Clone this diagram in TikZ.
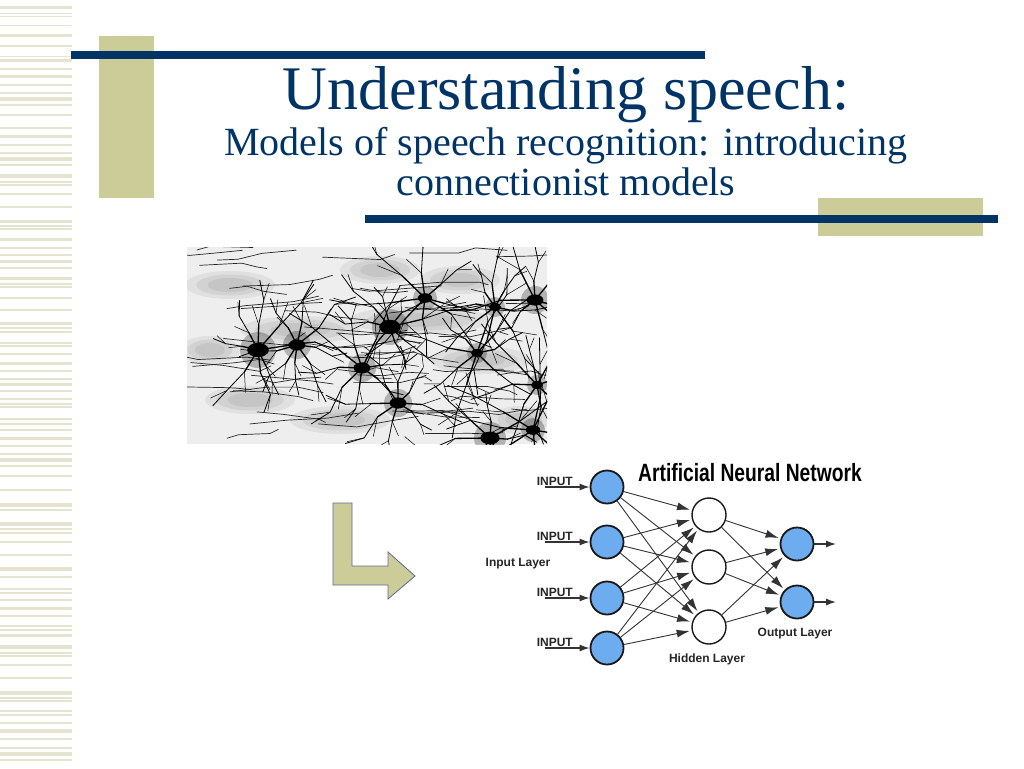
\documentclass[tikz,border=0pt]{standalone}
\usepackage{fontspec}
\setmainfont{Liberation Serif}
\newfontfamily\netfont{Liberation Sans}
\usetikzlibrary{arrows.meta}
\definecolor{navy}{RGB}{0,51,102}
\definecolor{khaki}{RGB}{204,204,153}
\definecolor{stripe}{RGB}{228,228,208}
\definecolor{cellblue}{RGB}{110,172,240}
\definecolor{photo}{RGB}{238,238,238}
\tikzstyle{title} = [text=navy, inner sep=0pt, anchor=base]
\tikzstyle{inunit} = [draw=black!90, line width=1.8pt, fill=cellblue, circle, minimum size=33pt, inner sep=0pt]
\tikzstyle{hidunit} = [inunit, fill=white, line width=1.4pt, minimum size=34pt]
\tikzstyle{outunit} = [inunit]
\tikzstyle{link} = [draw=black!80, line width=0.9pt, -{Latex[length=13pt,width=8pt]}, shorten >=2pt]
\tikzstyle{inarrow} = [draw=black!80, line width=1.3pt, -{Latex[length=10pt,width=7pt]}]
\tikzstyle{lbl} = [font={\netfont\bfseries\fontsize{12}{12}\selectfont}, text=black!85, inner sep=0pt]
\tikzstyle{dend} = [line width=0.8pt, black, line cap=round, line join=round]
\tikzstyle{fibre} = [line width=0.7pt, black!85]

\begin{document}
\begin{tikzpicture}[x=1pt,y=-1pt]
        \useasboundingbox (0,0) rectangle (1024,768);
        \fill[white] (0,0) rectangle (1024,768);
        % stripes at the left edge
        \foreach \y/\h in {6/3,13/1.5,16/1.5,25/1.5,34/3.5,45/2,56/1.5,59/2.5,68/1.5,75/3,84/2,92/1.5,97/3.5,104/2,114/1.5,127/1.5,135/3,144/2,152/2,157/4,164/2,174/4,181/1.5,184/1.5,193/1.5,206/1.5,220/2.5,225/1.5,228/1.5,238/3,247/1.5,254/1.5,260/3,267/2,277/3,283/1.5,286/1.5,297/1.5,309/1.5,322/3,327/1.5,331/1.5,342/1.5,345/2,353/2,362/2.5,370/1.5,378/1.5,383/3,390/2,398/2,403/1.5,406/1.5,418/2,423/1.5,429/1.5,437/2.5,445/2,453/2,458/4,465/2,475/2,489/1.5,503/3.5,509/2,522/3.5,528/1.5,532/1.5,541/1.5,554/1.5,567/4,576/2,588/1.5,592/1.5,599/1.5,607/2.5,615/2,625/2,629/1.5,634/3,645/4,652/1.5,655/1.5,664/1.5,677/1.5,691/3.5,697/1.5,700/1.5,710/1.5,714/2,722/1.5,729/3.5,738/2,747/1.5,752/3.5,759/2}
          \fill[stripe] (0,\y) rectangle (72,\y+\h);
        % bars round the title
        \fill[khaki] (99,36) rectangle (154,198);
        \fill[navy] (71,51) rectangle (705,59);
        \fill[khaki] (818,198) rectangle (983,236);
        \fill[navy] (365,215) rectangle (998,223);
        \node[title, font=\fontsize{62}{62}\selectfont] (head) at (566,109) {Understanding speech:};
        \node[title, font=\fontsize{40}{40}\selectfont] (sub1) at (566,155) {Models of speech recognition: introducing};
        \node[title, font=\fontsize{40}{40}\selectfont] (sub2) at (566,195) {connectionist models};
        % photo of neurons
        \begin{scope}
          \clip (187,247) rectangle (547,444);
          \fill[photo] (187,247) rectangle (547,444);
          \foreach \x/\y/\w in {230/285/45,300/330/60,420/320/70,250/400/45,480/360/50,380/270/40,520/420/30,340/420/50,460/280/40,210/350/30}
            \foreach \s in {1,0.75,0.5}
              \fill[black, opacity=0.06] (\x,\y) ellipse [x radius=\s*\w, y radius=\s*14];
          \pgfmathsetseed{11}
          \foreach \k in {1,...,55}{
            \pgfmathsetmacro\fy{250+rnd*190}
            \pgfmathsetmacro\fx{175+rnd*340}
            \draw[fibre] (\fx,\fy) -- ++(10+rnd*40,rand*5) -- ++(10+rnd*40,rand*6) -- ++(5+rnd*30,rand*6);
          }
          \foreach \sx/\sy/\sr in {258/350/9,297/345/7,390/327/9,362/368/7,398/403/7,425/298/6,495/307/5,535/300/7,477/353/5,490/438/8,537/385/5,533/430/6}{
            \fill[black, opacity=0.25] (\sx,\sy) circle [radius=2*\sr];
            \foreach \a in {0,45,...,315}{
              \pgfmathsetmacro\aa{\a+rand*20}
              \pgfmathsetmacro\ll{15+rnd*20}
              \draw[dend, line width=1.3pt] (\sx,\sy) -- ++(\aa:\ll) coordinate (fork);
              \draw[dend] (fork) -- ++(\aa+rand*25:\ll) coordinate (twig) -- ++(\aa+rand*30:\ll*0.8);
              \draw[dend, line width=0.5pt] (fork) -- ++(\aa-30+rand*15:\ll*0.8);
              \draw[dend, line width=0.5pt] (twig) -- ++(\aa+30+rand*15:\ll*0.7);
            }
            \fill (\sx,\sy) ellipse [x radius=1.2*\sr, y radius=0.8*\sr];
          }
        \end{scope}
        % bent arrow
        \draw[fill=khaki, draw=black!70!blue!60, line width=0.8pt] (333,503) -- (352,503) -- (352,566) -- (388,566) -- (388,552) -- (415,576) -- (388,599) -- (388,585) -- (333,585) -- cycle;
        % the network
        \node[inunit](i1) at (607,487){};
        \node[inunit](i2) at (607,542){};
        \node[inunit](i3) at (607,598){};
        \node[inunit](i4) at (607,648){};
        \node[hidunit](h1) at (709,515){};
        \node[hidunit](h2) at (709,567){};
        \node[hidunit](h3) at (709,627){};
        \node[outunit](o1) at (797,544){};
        \node[outunit](o2) at (797,602){};
        \coordinate (q1) at (836,544);
        \coordinate (q2) at (836,602);
        \foreach \i in {1,...,4}{
          \node[lbl, anchor=south east] (in\i) at ([xshift=-34pt,yshift=1pt]i\i.center) {INPUT};
          \draw[inarrow] ([xshift=8pt,yshift=-1pt]in\i.south west) -- (i\i);
        }
        \foreach \i in {1,...,4}
          \foreach \j in {1,2,3}
            \draw[link](i\i)--(h\j);
        \foreach \j in {1,2,3}
          \foreach \k in {1,2}
            \draw[link](h\j)--(o\k);
        \draw[inarrow](o1)--(q1);
        \draw[inarrow](o2)--(q2);
        \node[lbl](inlayer) at (518,564){Input Layer};
        \node[lbl](hidlayer) at (707,659){Hidden Layer};
        \node[lbl](outlayer) at (795,634){Output Layer};
        \node[inner sep=0pt, font={\netfont\bfseries\fontsize{25}{25}\selectfont}](ann) at (750,473){\scalebox{0.77}[1]{Artificial Neural Network}};
      \end{tikzpicture}
\end{document}
